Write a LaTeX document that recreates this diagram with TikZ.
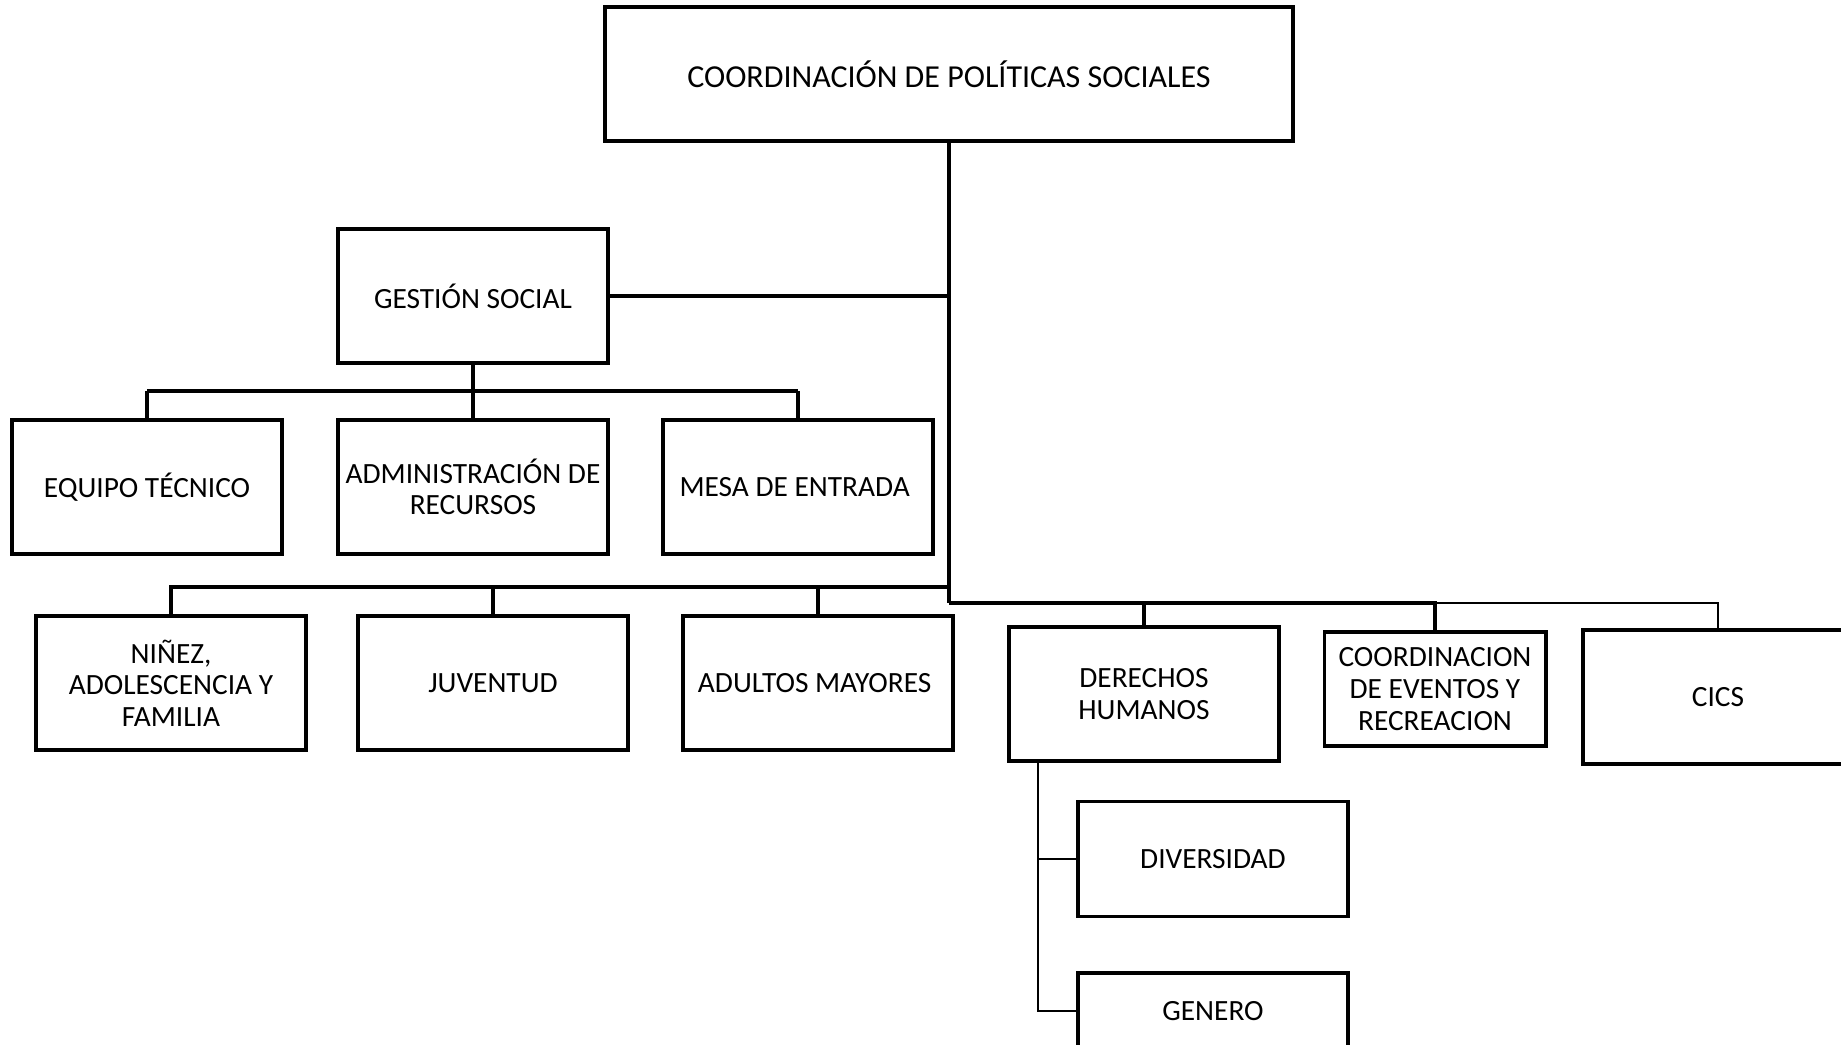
\documentclass[tikz,border=0pt]{standalone}
\usepackage{fontspec}
\setmainfont{Carlito}
\begin{document}
\begin{tikzpicture}[x=0.01cm, y=-0.01cm,
	unidad/.style={draw, line width=1.1pt, align=center, inner sep=0pt,
		minimum width=2.69cm, minimum height=1.34cm,
		font=\fontsize{8.35}{9}\selectfont},
	linea/.style={line width=1.1pt},
	fina/.style={line width=0.45pt}]
	
	% ---- Page frame ----
	\useasboundingbox (0,0) rectangle (1841,1045);
	\clip (0,0) rectangle (1841,1045);
	
	% ---- Top unit ----
	\node[unidad, minimum width=6.87cm, font=\fontsize{9.1}{10}\selectfont] (coord) at (949,74) {COORDINACIÓN DE POLÍTICAS SOCIALES};
	
	% ---- Gestion social and its units ----
	\node[unidad] (vgestion) at (473,296) {GESTIÓN SOCIAL};
	\foreach \x/\name/\texto in {
		147/equipo/{EQUIPO TÉCNICO},
		473/admin/{ADMINISTRACIÓN DE\\RECURSOS},
		798/mesa/{MESA DE ENTRADA}
	}
	{
		\node[unidad] (v\name) at (\x,487) {\texto};
	}
	
	% ---- Second row ----
	\foreach \x/\name/\texto in {
		171/ninez/{NIÑEZ,\\ADOLESCENCIA Y\\FAMILIA},
		493/juventud/{JUVENTUD},
		818/adultos/{ADULTOS MAYORES}
	}
	{
		\node[unidad] (v\name) at (\x,683) {\texto};
	}
	\node[unidad] (vderechos) at (1144,694) {DERECHOS\\HUMANOS};
	\node[unidad, minimum width=2.21cm, minimum height=1.14cm] (veventos) at (1435,689) {COORDINACION\\DE EVENTOS Y\\RECREACION};
	\node[unidad] (vcics) at (1718,697) {CICS};
	
	% ---- Under derechos humanos ----
	\node[unidad, minimum height=1.15cm] (vdiversidad) at (1213,859) {DIVERSIDAD};
	\node[unidad, minimum height=0.76cm] (vgenero) at (1213,1011) {GENERO};
	
	% ---- Junctions ----
	\coordinate (busG) at (473,391);
	\coordinate (busI) at (949,587);
	\coordinate (busD) at (949,603);
	\coordinate (ramaD) at (1038,761);
	
	% ---- Trunk ----
	\draw[linea] (coord.south) -- (busD);
	\draw[linea] (vgestion.east) -- (vgestion.east -| coord.south);
	
	% ---- Gestion social branches ----
	\draw[linea] (vgestion.south) -- (busG);
	\draw[linea] (busG -| vequipo.north) -- (busG -| vmesa.north);
	\foreach \name in {equipo,admin,mesa}
	\draw[linea] (busG -| v\name.north) -- (v\name.north);
	
	% ---- Left branches ----
	\draw[linea] (busI) -| (vninez.north);
	\foreach \name in {juventud,adultos}
	\draw[linea] (busI -| v\name.north) -- (v\name.north);
	
	% ---- Right branches ----
	\draw[linea] (busD) -| (vderechos.north);
	\draw[linea] (busD -| vderechos.north) -| (veventos.north);
	\draw[fina] (busD -| veventos.north) -| (vcics.north);
	
	% ---- Derechos humanos branches ----
	\draw[fina] (ramaD) |- (vdiversidad.west);
	\draw[fina] (ramaD) |- (vgenero.west);
	
\end{tikzpicture}
\end{document}
